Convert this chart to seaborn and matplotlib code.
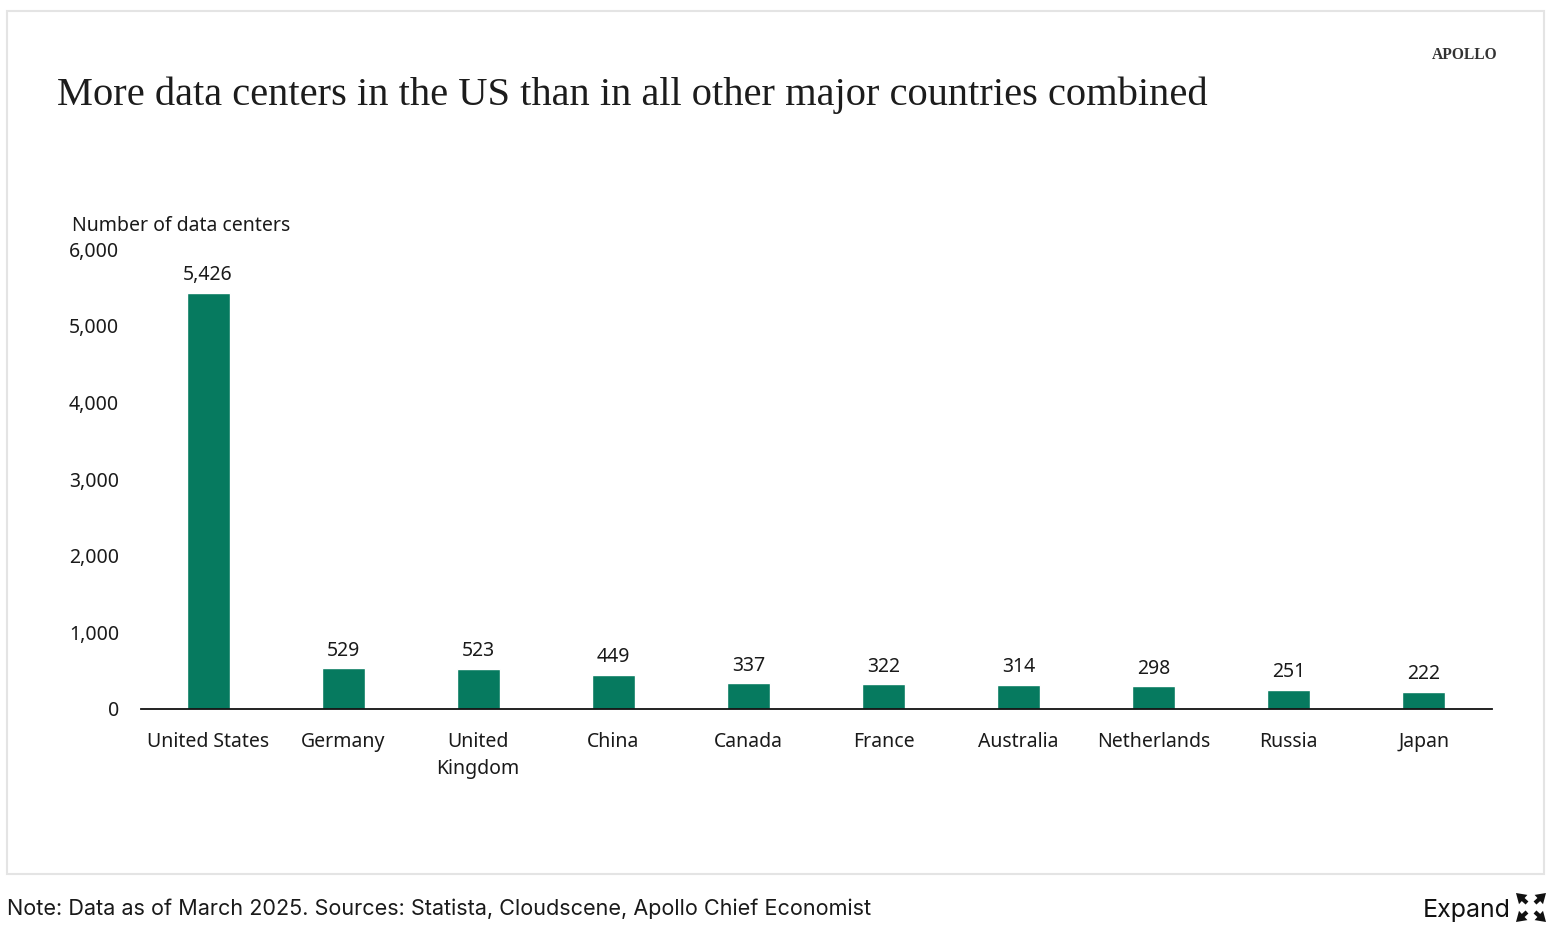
import matplotlib
matplotlib.use('Agg')
import matplotlib.pyplot as plt
import pandas as pd
import seaborn as sns
from matplotlib.patches import FancyArrowPatch, Rectangle
from matplotlib.ticker import FuncFormatter

countries = ['United States', 'Germany', 'United\nKingdom', 'China', 'Canada',
             'France', 'Australia', 'Netherlands', 'Russia', 'Japan']
centers = [5426, 529, 523, 449, 337, 322, 314, 298, 251, 222]
y_ticks = [0, 1000, 2000, 3000, 4000, 5000, 6000]

W, H = 1554, 930
BODY = 'Noto Sans'

sns.set_theme(style='white')
plt.rcParams['font.family'] = [BODY, 'DejaVu Sans']

df = pd.DataFrame({'country': countries, 'centers': centers})

fig = plt.figure(figsize=(W / 100, H / 100), dpi=100)
ax = fig.add_axes([140.5 / W, 1 - 709 / H, (1491.5 - 140.5) / W, (709 - 249) / H])

sns.barplot(data=df, x='country', y='centers', color='#067a5f', saturation=1,
            width=0.318, ax=ax)
for c in ax.containers:
    ax.bar_label(c, labels=[f'{v:,}' for v in centers], padding=5.5, fontsize=14, color='#1a1a1a')

ax.set_xlim(-0.5, 9.5)
ax.set_ylim(0, 6000)
ax.set_yticks(y_ticks)
ax.yaxis.set_major_formatter(FuncFormatter(lambda v, _: f'{int(v):,}'))
ax.set_xlabel('')
ax.set_ylabel('')
ax.tick_params(axis='x', length=0, pad=16.5, labelsize=14, labelcolor='#1a1a1a')
ax.tick_params(axis='y', length=0, pad=15.5, labelsize=14, labelcolor='#1a1a1a')
plt.setp(ax.get_xticklabels(), linespacing=1.45)
sns.despine(ax=ax, left=True)
ax.spines['bottom'].set_color('#111111')
ax.spines['bottom'].set_linewidth(1.3)

# card border
fig.add_artist(Rectangle((7 / W, 1 - 874 / H), (1544 - 7) / W, (874 - 11) / H,
                         transform=fig.transFigure, fill=False, ec='#e4e4e4', lw=1.5))

fig.text(57 / W, 1 - 95 / H, 'More data centers in the US than in all other major countries combined',
         family='Liberation Serif', fontsize=29.2, color='#1c1c1c', va='center', ha='left')
fig.text(1432 / W, 1 - 55 / H, 'APOLLO', family='Liberation Serif', fontsize=11.2,
         fontweight='bold', color='#333333', va='center', ha='left')
fig.text(72 / W, 1 - 226 / H, 'Number of data centers', fontsize=14, color='#1a1a1a',
         va='center', ha='left')
fig.text(7 / W, 1 - 909 / H, 'Note: Data as of March 2025. Sources: Statista, Cloudscene, Apollo Chief Economist',
         family='Inter', fontsize=15.55, color='#1a1a1a', va='center', ha='left')
fig.text(1423 / W, 1 - 910 / H, 'Expand', family='Inter', fontsize=18, color='#111111',
         va='center', ha='left')

# expand icon, four arrows pointing out of the corners
for x0, y0, x1, y1 in [(1527, 903, 1516, 893), (1535, 903, 1546, 893),
                       (1527, 912, 1516, 922), (1535, 912, 1546, 922)]:
    fig.add_artist(FancyArrowPatch((x0 / W, 1 - y0 / H), (x1 / W, 1 - y1 / H),
                                   transform=fig.transFigure, arrowstyle='simple,head_width=9,head_length=7,tail_width=3',
                                   mutation_scale=1, shrinkA=0, shrinkB=0, color='#111111', lw=0))

fig.savefig('out.png', dpi=100, facecolor='white')
